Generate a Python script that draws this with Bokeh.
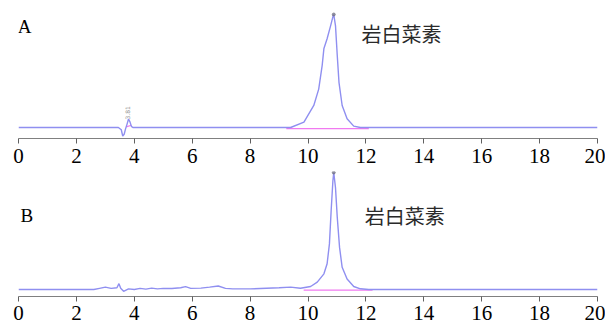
import numpy as np
from bokeh.plotting import figure
from bokeh.layouts import column
from bokeh.models import Label, FixedTicker
from bokeh.core.properties import value
from bokeh.embed import file_html
from bokeh.resources import INLINE

# ---- data ----
ticks = [0, 2, 4, 6, 8, 10, 12, 14, 16, 18, 20]
compound = "岩白菜素"

# Chromatogram A (retention time, min / relative response)
a_t = [0.0, 3.45, 3.55, 3.60, 3.65, 3.70, 3.75, 3.80, 3.85, 3.90, 3.95, 9.40, 9.86,
       10.20, 10.37, 10.49, 10.55, 10.66, 10.78, 10.87, 10.89, 10.95, 11.01, 11.07,
       11.18, 11.35, 11.58, 11.81, 20.0]
a_y = [0.0, 0.0, -2.0, -7.5, -6.0, -1.0, 3.0, 7.5, 5.0, 1.0, 0.0, 0.0, 4.7,
       19.5, 34.0, 55.0, 70.0, 78.5, 90.0, 99.0, 100.0, 90.0, 64.0, 40.0,
       19.5, 7.7, 1.2, 0.0, 0.0]
a_base_x0 = [3.72, 9.25]
a_base_x1 = [3.90, 12.10]
a_base_y0 = [0.5, -1.0]
a_base_y1 = [2.0, -1.0]

# Chromatogram B
b_t = [0.0, 2.60, 2.80, 3.00, 3.20, 3.40, 3.47, 3.53, 3.63, 3.80, 4.00, 4.20, 4.40,
       4.60, 4.80, 5.00, 5.30, 5.60, 5.77, 5.95, 6.30, 6.60, 6.90, 7.15, 7.40, 8.00,
       9.00, 9.40, 9.74, 10.09, 10.32, 10.55, 10.66, 10.74, 10.80, 10.86, 10.89,
       10.95, 11.01, 11.09, 11.18, 11.35, 11.58, 11.81, 12.10, 20.0]
b_y = [0.0, 0.0, 1.0, 2.0, 1.0, 1.5, 5.0, 1.0, -1.5, 0.5, 0.0, 1.0, 0.3,
       1.2, 0.5, 1.0, 0.8, 1.5, 2.5, 1.0, 1.2, 2.0, 3.0, 1.0, 0.5, 0.5,
       1.5, 2.0, 1.1, 2.6, 6.3, 13.4, 22.0, 39.0, 67.5, 93.0, 100.0,
       87.0, 62.0, 36.0, 19.0, 9.0, 2.6, 0.6, 0.0, 0.0]
b_base_x0 = [9.85]
b_base_x1 = [12.23]
b_base_y0 = [-0.6]
b_base_y1 = [-0.6]

TRACE = "#8f8ff0"
PINK = "#f07af0"
SERIF = "Liberation Serif"
CJK = "Noto Sans CJK SC"


def make_panel(height, y_rng, t, y, bx0, bx1, by0, by1, letter, letter_x,
               letter_y, cmp_x, cmp_y, border_bottom, standoff):
    p = figure(width=605, height=height, x_range=(0, 20), y_range=y_rng,
               output_backend="svg", toolbar_location=None,
               min_border_left=18, min_border_right=8, min_border_top=0,
               min_border_bottom=border_bottom)
    p.outline_line_color = None
    p.grid.visible = False
    p.yaxis.visible = False
    p.background_fill_color = "white"
    p.border_fill_color = "white"
    ax = p.xaxis[0]
    ax.ticker = FixedTicker(ticks=ticks)
    ax.minor_tick_line_color = None
    ax.major_tick_in = 0
    ax.major_tick_out = 5
    ax.axis_line_color = "#808080"
    ax.major_tick_line_color = "#606060"
    ax.major_label_text_font = SERIF
    ax.major_label_text_font_size = "21px"
    ax.major_label_text_color = "black"
    ax.major_label_standoff = standoff

    p.segment(x0=bx0, y0=by0, x1=bx1, y1=by1, line_color=PINK, line_width=1.3)
    p.line(t, y, line_color=TRACE, line_width=1.4)
    i = int(np.argmax(y))
    p.scatter([t[i]], [y[i]], size=3, color="#707080", alpha=0.7)

    p.add_layout(Label(x=letter_x, y=letter_y, text=letter, text_font=SERIF,
                       text_font_size="19px", text_baseline="top",
                       text_color="black"))
    p.add_layout(Label(x=cmp_x, y=cmp_y, text=compound, text_font=CJK,
                       text_font_size="20px", text_baseline="top",
                       text_color="#2a2a2a"))
    return p


pa = make_panel(171, (-9.73, 112.4), a_t, a_y, a_base_x0, a_base_x1,
                a_base_y0, a_base_y1, "A", -0.03, 99.1, 11.85, 96.0, 33, 5)
pa.text(x=[3.78], y=[7.0], text=["3.81"], angle=np.pi / 2,
        text_font=value("DejaVu Sans"), text_font_size="6px",
        text_color="#909090", text_baseline="middle")

pb = make_panel(157, (-5.98, 100.9), b_t, b_y, b_base_x0, b_base_x1,
                b_base_y0, b_base_y1, "B", 0.07, 72.6, 11.96, 76.1, 32, 4)

layout = column(pa, pb, spacing=0)
open("out.html", "w").write(file_html(layout, INLINE))
